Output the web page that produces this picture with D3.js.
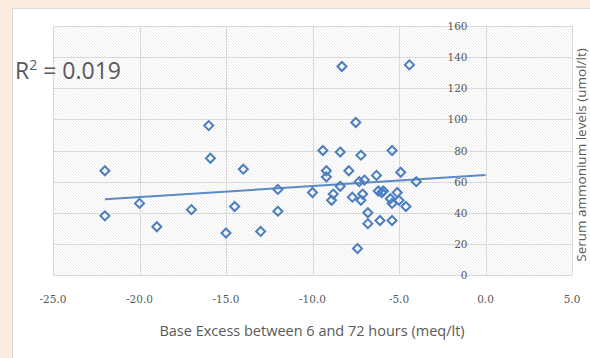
<!DOCTYPE html>
<html>
<head>
<meta charset="utf-8">
<script src="https://cdn.jsdelivr.net/npm/d3@7"></script>
<style>
  body { margin: 0; background: #fdecdd; }
  svg { display: block; }
</style>
</head>
<body>
<svg id="chart" width="590" height="358"></svg>
<script>
// base excess (meq/lt) vs serum ammonium (umol/lt)
const baseExcess = [
  -22, -22, -20, -19, -17, -16, -15.9, -15, -14.5, -14, -13, -12, -12,
  -10, -9.4, -9.2, -9.2, -8.9, -8.8, -8.4, -8.4, -8.3, -7.9, -7.7, -7.5,
  -7.4, -7.3, -7.2, -7.2, -7.1, -7, -6.8, -6.8, -6.3, -6.2, -6.1, -6.0,
  -5.9, -5.5, -5.4, -5.4, -5.4, -5.1, -5, -4.9, -4.6, -4.4, -4
];
const ammonium = [
  67, 38, 46, 31, 42, 96, 75, 27, 44, 68, 28, 55, 41,
  53, 80, 67, 63, 48, 52, 79, 57, 134, 67, 50, 98,
  17, 60, 77, 48, 52, 61, 40, 33, 64, 54, 35, 53,
  54, 49, 80, 46, 35, 53, 48, 66, 44, 135, 60
];

// linear trend line as drawn in the picture
const trendX = [-22, 0];
const trendY = [48.6, 64.3];
const rSquared = "0.019";

const xTicks = [-25, -20, -15, -10, -5, 0, 5];
const yTicks = [0, 20, 40, 60, 80, 100, 120, 140, 160];

const points = baseExcess.map((v, i) => ({x: v, y: ammonium[i]}));

const svg = d3.select("#chart");

// white chart panel
svg.append("rect")
  .attr("x", 12.5).attr("y", 8.5)
  .attr("width", 590).attr("height", 360)
  .attr("fill", "#fff")
  .attr("stroke", "#d9d9d9");

const plotL = 53, plotR = 572, plotT = 26, plotB = 275;

const x = d3.scaleLinear().domain([-25, 5]).range([plotL, plotR]);
const y = d3.scaleLinear().domain([0, 160]).range([plotB, plotT]);

// hatched plot background
const defs = svg.append("defs");
const pat = defs.append("pattern")
  .attr("id", "hatch")
  .attr("patternUnits", "userSpaceOnUse")
  .attr("width", 3).attr("height", 3);
pat.append("rect").attr("width", 3).attr("height", 3).attr("fill", "#fff");
pat.append("path")
  .attr("d", "M-1,-1 L4,4 M-1,2 L1,4 M2,-1 L4,1")
  .attr("stroke", "#e2e2e2")
  .attr("stroke-width", 0.7);

svg.append("rect")
  .attr("x", plotL).attr("y", plotT)
  .attr("width", plotR - plotL).attr("height", plotB - plotT)
  .attr("fill", "url(#hatch)");

// grid
svg.append("g")
  .selectAll("line")
  .data(xTicks)
  .join("line")
  .attr("x1", d => Math.round(x(d)) + 0.5).attr("x2", d => Math.round(x(d)) + 0.5)
  .attr("y1", plotT).attr("y2", plotB)
  .attr("stroke", "#d9d9d9");

svg.append("g")
  .selectAll("line")
  .data(yTicks)
  .join("line")
  .attr("x1", plotL).attr("x2", plotR)
  .attr("y1", d => Math.round(y(d)) + 0.5).attr("y2", d => Math.round(y(d)) + 0.5)
  .attr("stroke", "#d9d9d9");

// tick labels
svg.append("g")
  .selectAll("text")
  .data(xTicks)
  .join("text")
  .attr("x", d => x(d))
  .attr("y", 303)
  .attr("text-anchor", "middle")
  .attr("font-family", "DejaVu Serif, serif")
  .attr("font-size", 10.5)
  .attr("fill", "#595959")
  .text(d => d.toFixed(1));

svg.append("g")
  .selectAll("text")
  .data(yTicks)
  .join("text")
  .attr("x", x(0) - 18)
  .attr("y", d => y(d) + 4)
  .attr("text-anchor", "end")
  .attr("font-family", "DejaVu Serif, serif")
  .attr("font-size", 10.5)
  .attr("fill", "#595959")
  .text(d => d);

// axis titles
svg.append("text")
  .attr("x", 312).attr("y", 336)
  .attr("text-anchor", "middle")
  .attr("font-family", "Open Sans, sans-serif")
  .attr("font-size", 14.5)
  .attr("fill", "#595959")
  .text("Base Excess between 6 and 72 hours (meq/lt)");

svg.append("text")
  .attr("transform", "translate(586,155) rotate(-90)")
  .attr("text-anchor", "middle")
  .attr("font-family", "Open Sans, sans-serif")
  .attr("font-size", 13.5)
  .attr("fill", "#595959")
  .text("Serum ammonium levels (umol/lt)");

// trend line
svg.append("line")
  .attr("x1", x(trendX[0])).attr("y1", y(trendY[0]))
  .attr("x2", x(trendX[1])).attr("y2", y(trendY[1]))
  .attr("stroke", "#5b8ac6")
  .attr("stroke-width", 2);

// points
svg.append("g")
  .selectAll("path")
  .data(points)
  .join("path")
  .attr("transform", d => `translate(${x(d.x)},${y(d.y)})`)
  .attr("d", "M0,-4.5 L4.5,0 L0,4.5 L-4.5,0 Z")
  .attr("fill", "none")
  .attr("stroke", "#4a7ebf")
  .attr("stroke-width", 2);

// R squared label
const r2 = svg.append("text")
  .attr("x", 15).attr("y", 79)
  .attr("font-family", "Open Sans, sans-serif")
  .attr("font-size", 23)
  .attr("fill", "#595959");
r2.append("tspan").text("R");
r2.append("tspan").attr("dy", -9).attr("font-size", 14).text("2");
r2.append("tspan").attr("dy", 9).text(" = " + rSquared);
</script>
</body>
</html>
